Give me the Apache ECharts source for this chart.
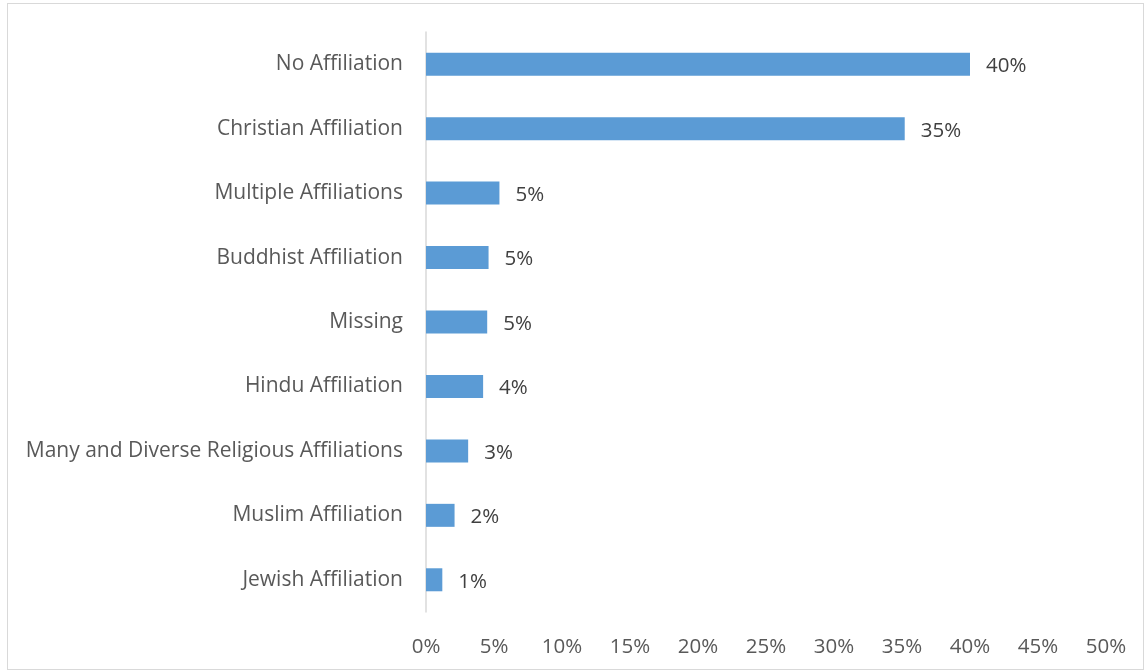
<!DOCTYPE html>
<html>
<head>
<meta charset="utf-8">
<script src="https://cdn.jsdelivr.net/npm/echarts@6/dist/echarts.min.js"></script>
<style>
  html, body { margin: 0; padding: 0; background: #fff; }
  #frame { position: absolute; left: 7px; top: 3px; right: 1px; bottom: 1px; border: 1px solid #d9d9d9; }
  #chart { position: absolute; left: 0; top: 0; width: 1145px; height: 671px; }
</style>
</head>
<body>
<div id="frame"></div>
<div id="chart"></div>
<script>
// Religious affiliation shares (percent), listed bottom-to-top
const categories = [
  'Jewish Affiliation',
  'Muslim Affiliation',
  'Many and Diverse Religious Affiliations',
  'Hindu Affiliation',
  'Missing',
  'Buddhist Affiliation',
  'Multiple Affiliations',
  'Christian Affiliation',
  'No Affiliation'
];
const shares = [1.2, 2.1, 3.1, 4.2, 4.5, 4.6, 5.4, 35.2, 40.0];
const xTicks = [0, 5, 10, 15, 20, 25, 30, 35, 40, 45, 50];

const font = '"Open Sans", "Noto Sans", sans-serif';
const chart = echarts.init(document.getElementById('chart'), null, { renderer: 'canvas' });
chart.setOption({
  animation: false,
  grid: { left: 426, right: 39, top: 32, bottom: 59, containLabel: false },
  xAxis: {
    type: 'value',
    min: xTicks[0],
    max: xTicks[xTicks.length - 1],
    interval: xTicks[1] - xTicks[0],
    axisLine: { show: false },
    axisTick: { show: false },
    splitLine: { show: false },
    axisLabel: {
      margin: 25,
      color: '#595959',
      fontFamily: font,
      fontSize: 20.5,
      formatter: v => v + '%'
    }
  },
  yAxis: {
    type: 'category',
    data: categories,
    axisLine: { show: true, lineStyle: { color: '#d9d9d9', width: 1.5 } },
    axisTick: { show: false },
    axisLabel: {
      margin: 23,
      padding: [4, 0, 0, 0],
      color: '#595959',
      fontFamily: font,
      fontSize: 21
    }
  },
  series: [{
    type: 'bar',
    data: shares,
    barWidth: 23,
    itemStyle: { color: '#5b9bd5' },
    label: {
      show: true,
      position: 'right',
      distance: 16,
      offset: [0, 2],
      color: '#404040',
      fontFamily: font,
      fontSize: 20.5,
      formatter: p => Math.round(p.value) + '%'
    }
  }]
});
</script>
</body>
</html>
